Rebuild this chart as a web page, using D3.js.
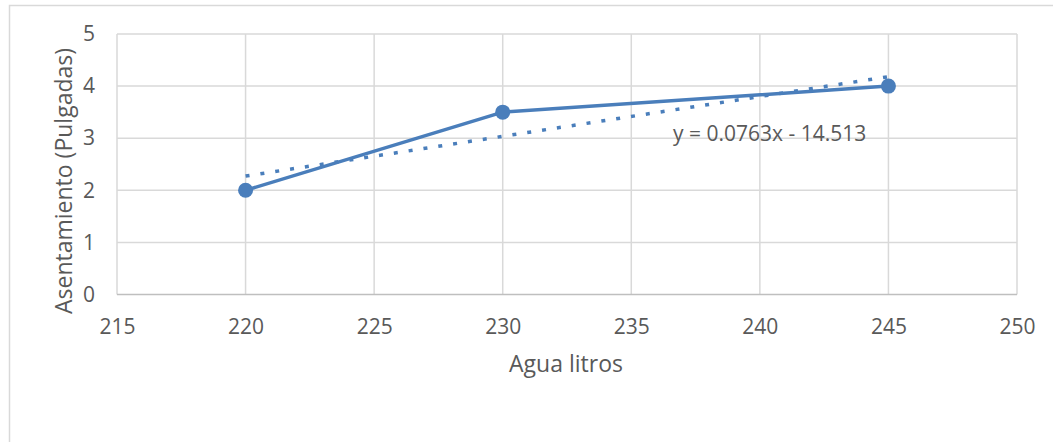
<!DOCTYPE html>
<html>
<head>
<meta charset="utf-8">
<script src="https://cdn.jsdelivr.net/npm/d3@7/dist/d3.min.js"></script>
<style>
  html, body { margin: 0; padding: 0; background: #fff; }
  svg { display: block; }
  text { font-family: "Open Sans", "Noto Sans", sans-serif; fill: #595959; }
</style>
</head>
<body>
<svg id="chart" width="1053" height="442"></svg>
<script>
// Water (litres) vs. slump (inches)
const aguaLitros = [220, 230, 245];
const asentamiento = [2, 3.5, 4];
const xTicks = [215, 220, 225, 230, 235, 240, 245, 250];
const yTicks = [0, 1, 2, 3, 4, 5];
const trendSlope = 0.0763;
const trendIntercept = -14.513;
const trendLabel = "y = 0.0763x - 14.513";

const svg = d3.select("#chart");
const blue = "#4a7ebb";
const grid = "#d9d9d9";
const font = '"Open Sans", "Noto Sans", sans-serif';

// chart frame
svg.append("rect")
  .attr("x", 9.5).attr("y", 5.5)
  .attr("width", 1100).attr("height", 500)
  .attr("fill", "#fff").attr("stroke", grid).attr("stroke-width", 1.5);

const plot = { left: 117, right: 1017, top: 34, bottom: 294.5 };

const x = d3.scaleLinear().domain([215, 250]).range([plot.left, plot.right]);
const y = d3.scaleLinear().domain([0, 5]).range([plot.bottom, plot.top]);

// gridlines
svg.append("g")
  .selectAll("line")
  .data(xTicks)
  .join("line")
  .attr("x1", d => x(d)).attr("x2", d => x(d))
  .attr("y1", plot.top).attr("y2", plot.bottom)
  .attr("stroke", grid).attr("stroke-width", 1.5);

svg.append("g")
  .selectAll("line")
  .data(yTicks)
  .join("line")
  .attr("x1", plot.left).attr("x2", plot.right)
  .attr("y1", d => y(d)).attr("y2", d => y(d))
  .attr("stroke", d => d === 0 ? "#bfbfbf" : grid).attr("stroke-width", 1.5);

// tick labels via d3 axes (axis lines hidden)
const xAxis = svg.append("g")
  .attr("transform", `translate(0,${plot.bottom})`)
  .call(d3.axisBottom(x).tickValues(xTicks).tickSize(0).tickPadding(25).tickFormat(d3.format("d")));
xAxis.select(".domain").remove();
xAxis.selectAll("text").attr("font-size", 21).attr("fill", "#595959")
  .style("font-family", font);

const yAxis = svg.append("g")
  .attr("transform", `translate(${plot.left},0)`)
  .call(d3.axisLeft(y).tickValues(yTicks).tickSize(0).tickPadding(22).tickFormat(d3.format("d")));
yAxis.select(".domain").remove();
yAxis.selectAll("text").attr("font-size", 21).attr("fill", "#595959")
  .style("font-family", font);

// axis titles
svg.append("text")
  .attr("x", 566).attr("y", 371.5)
  .attr("text-anchor", "middle").attr("font-size", 23)
  .text("Agua litros");

svg.append("text")
  .attr("transform", "translate(71.5,181) rotate(-90)")
  .attr("text-anchor", "middle").attr("font-size", 23)
  .text("Asentamiento (Pulgadas)");

// linear trendline over the data range
const xExt = d3.extent(aguaLitros);
const trendPts = xExt.map(v => [v, trendSlope * v + trendIntercept]);
svg.append("path")
  .datum(trendPts)
  .attr("d", d3.line().x(d => x(d[0])).y(d => y(d[1])))
  .attr("fill", "none").attr("stroke", blue)
  .attr("stroke-width", 3.5).attr("stroke-dasharray", "4,11");

// data series
const pts = aguaLitros.map((v, i) => [v, asentamiento[i]]);
svg.append("path")
  .datum(pts)
  .attr("d", d3.line().x(d => x(d[0])).y(d => y(d[1])))
  .attr("fill", "none").attr("stroke", blue)
  .attr("stroke-width", 3.5).attr("stroke-linejoin", "round");

svg.append("g")
  .selectAll("circle")
  .data(pts)
  .join("circle")
  .attr("cx", d => x(d[0])).attr("cy", d => y(d[1]))
  .attr("r", 7.5).attr("fill", blue);

// trendline equation
svg.append("text")
  .attr("x", 673).attr("y", 140.5)
  .attr("font-size", 21)
  .text(trendLabel);
</script>
</body>
</html>
